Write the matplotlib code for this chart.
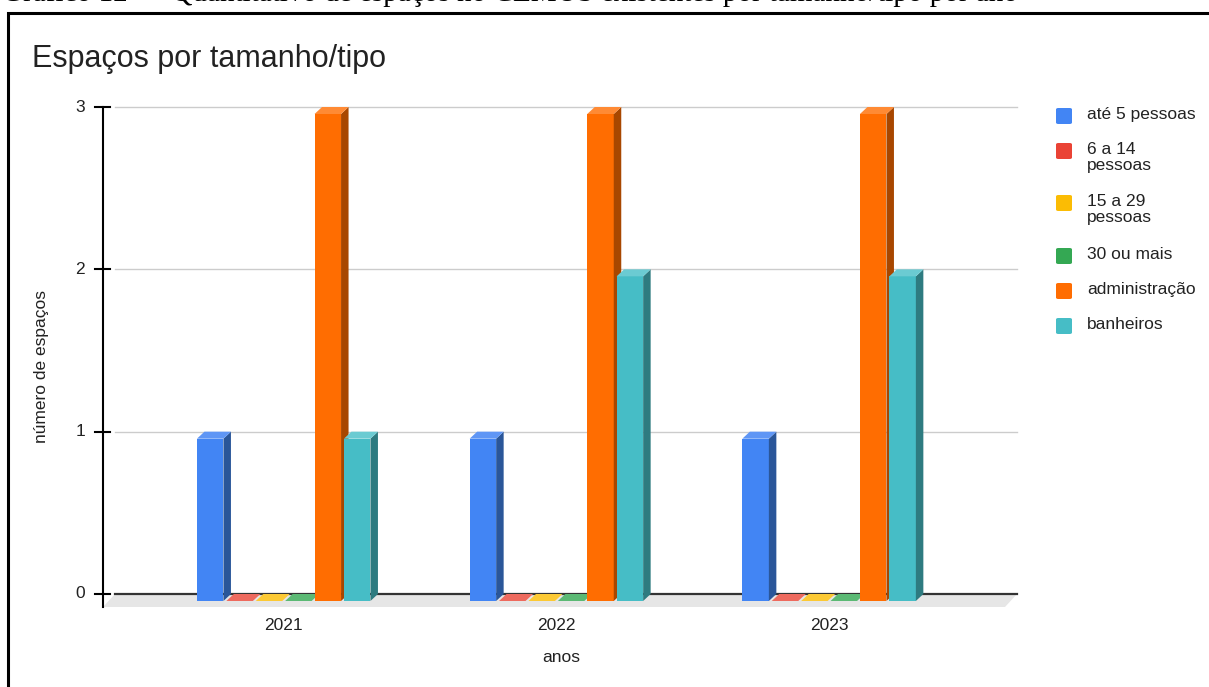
import matplotlib
matplotlib.use('Agg')
import matplotlib.pyplot as plt
from matplotlib.patches import Polygon, Rectangle, FancyBboxPatch
from matplotlib.lines import Line2D

# dados
anos = ['2021', '2022', '2023']
series = ['até 5 pessoas', '6 a 14\npessoas', '15 a 29\npessoas',
          '30 ou mais', 'administração', 'banheiros']
ate_5 = [1, 1, 1]
de_6_a_14 = [0, 0, 0]
de_15_a_29 = [0, 0, 0]
trinta_ou_mais = [0, 0, 0]
administracao = [3, 3, 3]
banheiros = [1, 2, 2]
valores = [ate_5, de_6_a_14, de_15_a_29, trinta_ou_mais, administracao, banheiros]

# cores: frente, lateral, topo
frente = ['#4285F4', '#EA4335', '#FBBC04', '#34A853', '#FF6D01', '#46BDC6']
lateral = ['#2A5699', '#A2362B', '#B08503', '#24753A', '#A84700', '#2E7B80']
topo = ['#5F96F5', '#EE6A5E', '#FCC934', '#5BB974', '#FF8A34', '#6BCBD2']

W, H = 1209, 687
fig = plt.figure(figsize=(W / 100, H / 100), dpi=100)


def fx(px):
    return px / W


def fy(py):
    return 1 - py / H


FONT = 'Liberation Sans'

# legenda do documento (cortada no topo)
fig.text(fx(2), fy(1), 'Gráfico 12  –  Quantitativo de espaços no CEMUS existentes por tamanho/tipo por ano',
         family='Liberation Serif', fontsize=21, ha='left', va='baseline', color='black')

# moldura
fig.patches.append(Rectangle((fx(8), fy(720)), fx(1240) - fx(8), fy(13) - fy(720),
                             transform=fig.transFigure, fill=False, ec='black', lw=2.2))

ax = fig.add_axes([fx(115), fy(594), fx(1017) - fx(115), fy(107) - fy(594)])
px_x = 272.7
px_y = (594 - 107) / 3
x0 = -(283.7 - 115) / px_x
x1 = x0 + 902 / px_x
ax.set_xlim(x0, x1)
ax.set_ylim(0, 3)
ax.axis('off')

# profundidade 3D
dx = 7.5 / px_x
dy = 7 / px_y
fdx = 12 / px_x
fdy = 13 / px_y
passo = 29.4 / px_x
larg = 26.5 / px_x

# piso
ax.add_patch(Polygon([(x0 - fdx, -fdy), (x1 - fdx, -fdy), (x1, 0), (x0, 0)],
                     closed=True, fc='#E6E6E6', ec='none', clip_on=False, zorder=0))

# linhas de grade
for v in [1, 2, 3]:
    ax.plot([x0, x1], [v, v], color='#CCCCCC', lw=1, zorder=1, clip_on=False)
ax.plot([x0, x1], [0, 0], color='#333333', lw=1.6, zorder=1, clip_on=False)

# eixo y
xa = x0 - fdx
ax.add_line(Line2D([xa, xa], [-fdy, 3], color='black', lw=1.5, clip_on=False))
for v in [0, 1, 2, 3]:
    ax.add_line(Line2D([xa - 8 / px_x, xa + 7 / px_x], [v, v], color='black', lw=1.5, clip_on=False))
    ax.text(xa - 18 / px_x, v, str(v), ha='right', va='center', fontsize=12.5,
            family=FONT, color='#222222')

# barras
for g in range(len(anos)):
    for i, vals in enumerate(valores):
        v = vals[g]
        xl = g + (i - 2.5) * passo - larg / 2
        xr = xl + larg
        z = 3 + g * 10 + i
        if v > 0:
            ax.add_patch(Polygon([(xl, -dy), (xr, -dy), (xr, v - dy), (xl, v - dy)],
                                 closed=True, fc=frente[i], ec='none', zorder=z, clip_on=False))
            ax.add_patch(Polygon([(xr, -dy), (xr + dx, 0), (xr + dx, v), (xr, v - dy)],
                                 closed=True, fc=lateral[i], ec='none', zorder=z, clip_on=False))
        ax.add_patch(Polygon([(xl, v - dy), (xr, v - dy), (xr + dx, v), (xl + dx, v)],
                             closed=True, fc=topo[i], ec='none', zorder=z, clip_on=False))

# rótulos do eixo x
for g, ano in enumerate(anos):
    ax.text(g, -(626 - 594) / px_y, ano, ha='center', va='center', fontsize=12.5,
            family=FONT, color='#222222')

fig.text(fx(561), fy(657), 'anos', ha='center', va='center', fontsize=12.5,
         family=FONT, color='#222222')
fig.text(fx(42), fy(367), 'número de espaços', ha='center', va='center', rotation=90,
         fontsize=12.5, family=FONT, color='#222222')

# título
fig.text(fx(32), fy(59), 'Espaços por tamanho/tipo', ha='left', va='center', fontsize=22,
         family=FONT, color='#222222')

# legenda
leg_y = [116, 151, 203, 256, 291, 326]
for i, nome in enumerate(series):
    cy = leg_y[i]
    fig.patches.append(FancyBboxPatch((fx(1056), fy(cy + 8)), fx(16), fy(cy - 8) - fy(cy + 8),
                                      boxstyle='round,pad=0,rounding_size=0.002',
                                      transform=fig.transFigure, fc=frente[i], ec='none'))
    fig.text(fx(1087), fy(cy - 9), nome, ha='left', va='top', fontsize=12.5,
             family=FONT, color='#222222', linespacing=1.05)

fig.savefig('out.png', dpi=100)
